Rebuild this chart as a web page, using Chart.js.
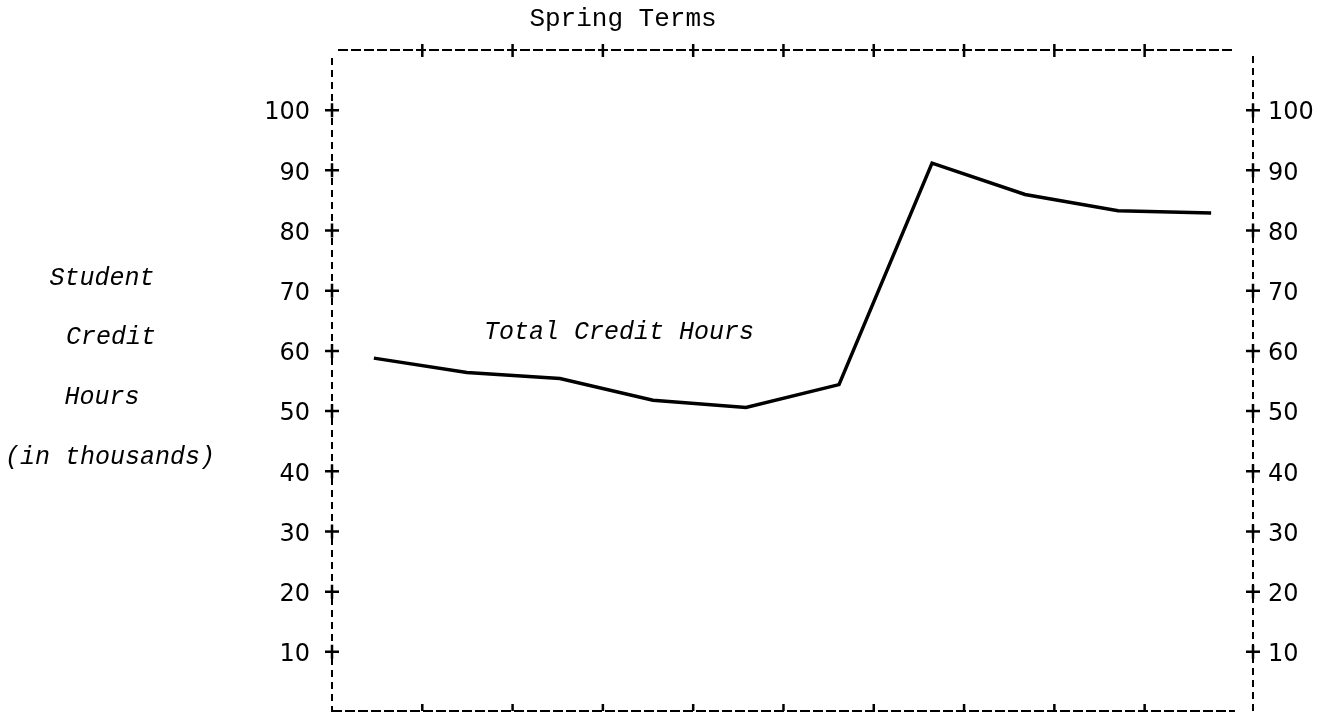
<!DOCTYPE html>
<html>
<head>
<meta charset="utf-8">
<script src="https://cdn.jsdelivr.net/npm/chart.js@4.4.1/dist/chart.umd.min.js"></script>
<style>
  html, body { margin: 0; padding: 0; background: #fff; }
  #wrap { width: 1325px; height: 714px; position: relative; }
</style>
</head>
<body>
<div id="wrap"><canvas id="c" width="1325" height="714"></canvas></div>
<script>
// ---- data ----
const terms = ['Term 1','Term 2','Term 3','Term 4','Term 5','Term 6','Term 7','Term 8','Term 9','Term 10'];
const creditHours = [58.8, 56.4, 55.4, 51.8, 50.6, 54.4, 91.2, 86.0, 83.3, 82.9];
const yTicks = [10, 20, 30, 40, 50, 60, 70, 80, 90, 100];
const termMarks = [1, 2, 3, 4, 5, 6, 7, 8, 9];
const yAxisTitle = ['Student', 'Credit', 'Hours', '(in thousands)'];
const chartTitle = 'Spring Terms';
const seriesLabel = 'Total Credit Hours';

const MONO = '"Liberation Mono", "Courier New", monospace';
const SANS = '"DejaVu Sans", sans-serif';

const decor = {
  id: 'decor',
  afterDraw(chart) {
    const ctx = chart.ctx;
    const ca = chart.chartArea;
    const x2 = chart.scales.x2;
    const y = chart.scales.y;
    ctx.save();
    ctx.strokeStyle = '#000';
    ctx.fillStyle = '#000';
    // top & bottom dashed frame lines
    const xl = x2.getPixelForValue(0), xr = x2.getPixelForValue(10);
    ctx.lineWidth = 2;
    ctx.setLineDash([10, 3]);
    ctx.beginPath();
    ctx.moveTo(xl + 6, ca.top); ctx.lineTo(xr, ca.top);
    ctx.moveTo(xl, ca.bottom - 1); ctx.lineTo(xr, ca.bottom - 1);
    ctx.stroke();
    // vertical dashed frame lines
    ctx.setLineDash([7, 5]);
    ctx.beginPath();
    ctx.moveTo(ca.left, ca.top + 8); ctx.lineTo(ca.left, ca.bottom);
    ctx.moveTo(ca.right, ca.top + 6); ctx.lineTo(ca.right, ca.bottom);
    ctx.stroke();
    ctx.setLineDash([]);
    // term marks
    ctx.lineWidth = 2.5;
    ctx.beginPath();
    termMarks.forEach(v => {
      const px = x2.getPixelForValue(v);
      ctx.moveTo(px, ca.top - 6); ctx.lineTo(px, ca.top + 7);
      ctx.moveTo(px, ca.bottom - 8); ctx.lineTo(px, ca.bottom - 1);
    });
    ctx.stroke();
    // + marks on y axes
    ctx.beginPath();
    yTicks.forEach(v => {
      const py = y.getPixelForValue(v);
      [ca.left, ca.right].forEach(px => {
        ctx.moveTo(px - 7, py); ctx.lineTo(px + 7, py);
        ctx.moveTo(px, py - 7); ctx.lineTo(px, py + 7);
      });
    });
    ctx.stroke();
    // texts
    ctx.textBaseline = 'middle';
    ctx.textAlign = 'center';
    ctx.font = '26px ' + MONO;
    ctx.fillText(chartTitle, 623, 19);
    ctx.font = 'italic 25px ' + MONO;
    const tx = [102, 111, 102, 110];
    const ty = [278, 337, 397, 457];
    yAxisTitle.forEach((t, i) => ctx.fillText(t, tx[i], ty[i]));
    ctx.fillText(seriesLabel, 619, 332);
    ctx.restore();
  }
};

function fixV(width) {
  return function (s) { s.width = width; s.paddingTop = 0; s.paddingBottom = 0; };
}

new Chart(document.getElementById('c'), {
  type: 'line',
  data: {
    datasets: [{
      label: seriesLabel,
      data: creditHours.map((v, i) => ({ x: i, y: v, term: terms[i] })),
      borderColor: '#000',
      borderWidth: 3.5,
      pointRadius: 0,
      tension: 0,
      fill: false,
      xAxisID: 'x',
      yAxisID: 'y'
    }]
  },
  options: {
    responsive: false,
    animation: false,
    devicePixelRatio: 1,
    layout: { padding: { top: 50, bottom: 2, left: 0, right: 0 } },
    plugins: { legend: { display: false }, title: { display: false }, tooltip: { enabled: false } },
    scales: {
      x: { type: 'linear', min: -0.45, max: 9.45, display: false },
      x2: { type: 'linear', min: 0, max: 10.2, display: false },
      y: {
        position: 'left', min: 0, max: 110,
        afterFit: fixV(332),
        afterBuildTicks(s) { s.ticks = yTicks.map(v => ({ value: v })); },
        ticks: { font: { family: SANS, size: 24 }, color: '#000', padding: 22, crossAlign: 'near', labelOffset: 3 },
        grid: { drawOnChartArea: false, drawTicks: false },
        border: { display: false }
      },
      y2: {
        position: 'right', min: 0, max: 110,
        afterFit: fixV(72),
        afterBuildTicks(s) { s.ticks = yTicks.map(v => ({ value: v })); },
        ticks: { font: { family: SANS, size: 24 }, color: '#000', padding: 15, labelOffset: 3 },
        grid: { drawOnChartArea: false, drawTicks: false },
        border: { display: false }
      }
    }
  },
  plugins: [decor]
});
</script>
</body>
</html>
